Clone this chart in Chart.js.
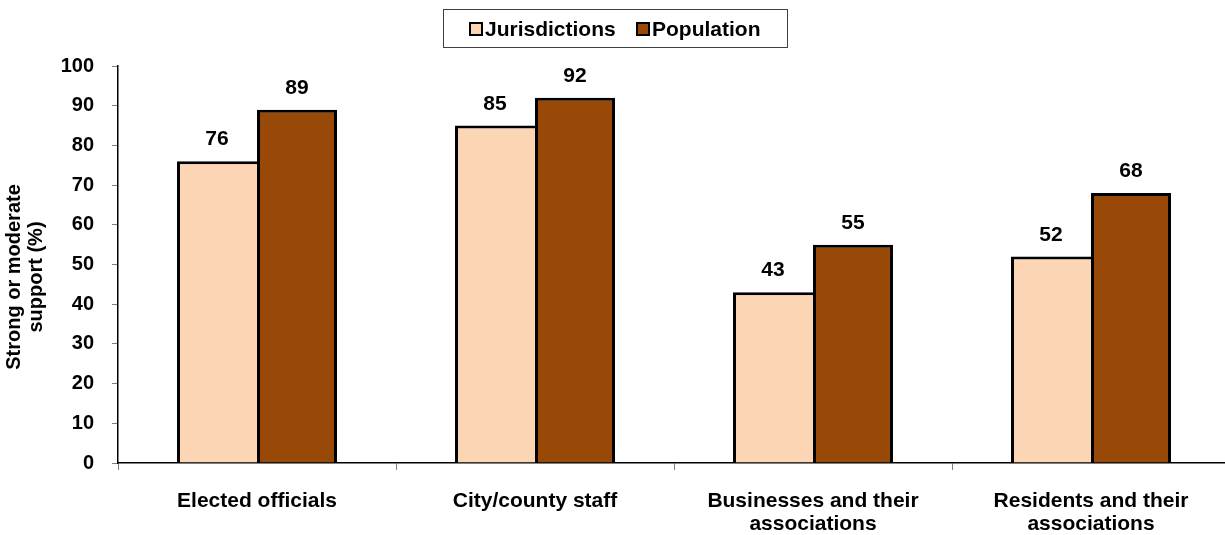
<!DOCTYPE html>
<html>
<head>
<meta charset="utf-8">
<script src="https://cdn.jsdelivr.net/npm/chart.js@4.4.1/dist/chart.umd.min.js"></script>
<style>
  html, body { margin: 0; padding: 0; background: #fff; overflow: hidden; }
  #wrap { width: 1225px; height: 535px; overflow: hidden; }
</style>
</head>
<body>
<div id="wrap"><canvas id="myChart" width="1230" height="535"></canvas></div>
<script>
const labels = [
  "Elected officials",
  "City/county staff",
  ["Businesses and their", "associations"],
  ["Residents and their", "associations"]
];
const jurisdictions = [76, 85, 43, 52];
const population = [89, 92, 55, 68];
const yTicks = [0, 10, 20, 30, 40, 50, 60, 70, 80, 90, 100];
const yTitle = ['Strong or moderate', 'support (%)'];

const FONT = "'Liberation Sans', Arial, sans-serif";
const LIGHT = '#FCD5B5';
const DARK = '#984807';

// value labels above each bar
const barValues = {
  id: 'barValues',
  afterDatasetsDraw(chart) {
    const ctx = chart.ctx;
    ctx.save();
    ctx.font = "bold 21px " + FONT;
    ctx.fillStyle = '#000';
    ctx.textAlign = 'center';
    ctx.textBaseline = 'alphabetic';
    chart.data.datasets.forEach((ds, i) => {
      chart.getDatasetMeta(i).data.forEach((bar, j) => {
        ctx.fillText(ds.data[j], bar.x, bar.y - 16);
      });
    });
    ctx.restore();
  }
};

// boxed legend at the top and the rotated axis title
const decorations = {
  id: 'decorations',
  afterDraw(chart) {
    const ctx = chart.ctx;
    ctx.save();
    ctx.strokeStyle = '#404040';
    ctx.lineWidth = 1;
    ctx.strokeRect(443.5, 9.5, 344, 38);

    ctx.font = "bold 21px " + FONT;
    ctx.textBaseline = 'alphabetic';
    ctx.textAlign = 'left';
    const items = [
      { x: 470, text: chart.data.datasets[0].label, color: LIGHT },
      { x: 637, text: chart.data.datasets[1].label, color: DARK }
    ];
    items.forEach(it => {
      ctx.fillStyle = it.color;
      ctx.fillRect(it.x, 23, 12, 12);
      ctx.strokeStyle = '#000';
      ctx.lineWidth = 2;
      ctx.strokeRect(it.x, 23, 12, 12);
      ctx.fillStyle = '#000';
      ctx.fillText(it.text, it.x + 15, 36);
    });

    ctx.translate(0, 277);
    ctx.rotate(-Math.PI / 2);
    ctx.font = "bold 20px " + FONT;
    ctx.textAlign = 'center';
    ctx.fillText(yTitle[0], 0, 20);
    ctx.fillText(yTitle[1], 0, 42);
    ctx.restore();
  }
};

const data = {
  labels: labels,
  datasets: [{
    label: 'Jurisdictions',
    data: jurisdictions,
    backgroundColor: LIGHT,
    borderColor: '#000',
    borderWidth: { top: 3, left: 3, right: 0, bottom: 0 },
    borderSkipped: false
  }, {
    label: 'Population',
    data: population,
    backgroundColor: DARK,
    borderColor: '#000',
    borderWidth: { top: 3, left: 3, right: 3, bottom: 0 },
    borderSkipped: false
  }]
};

const config = {
  type: 'bar',
  data: data,
  plugins: [barValues, decorations],
  options: {
    responsive: false,
    animation: false,
    layout: { padding: { top: 66, right: 0, bottom: 0, left: 0 } },
    datasets: {
      bar: { categoryPercentage: 0.5755, barPercentage: 1 }
    },
    plugins: {
      tooltip: { enabled: false },
      legend: { display: false }
    },
    scales: {
      x: {
        grid: {
          display: true,
          drawOnChartArea: false,
          offset: true,
          tickLength: 7,
          color: '#808080'
        },
        border: { color: '#000', width: 1.5 },
        ticks: {
          color: '#000',
          font: { family: FONT, size: 21, weight: 'bold', lineHeight: 1.08 },
          padding: 20,
          maxRotation: 0
        },
        afterFit(s) { s.height = 72; }
      },
      y: {
        min: 0,
        max: 100,
        afterBuildTicks(s) { s.ticks = yTicks.map(v => ({ value: v })); },
        grid: {
          display: true,
          drawOnChartArea: false,
          tickLength: 6,
          color: '#808080'
        },
        border: { color: '#000', width: 1.5 },
        ticks: {
          color: '#000',
          font: { family: FONT, size: 20, weight: 'bold' },
          padding: 18
        },
        afterFit(s) { s.width = 118; }
      }
    }
  }
};

const myChart = new Chart(document.getElementById('myChart'), config);
</script>
</body>
</html>
